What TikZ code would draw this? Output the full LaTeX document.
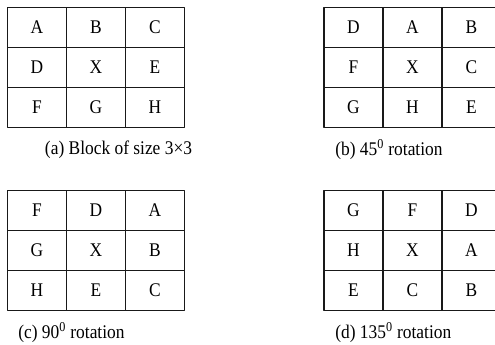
\documentclass[tikz,border=0pt]{standalone}
\usepackage{fontspec}
\setmainfont{Liberation Serif}
\newfontfamily\narrowserif[FakeStretch=0.9]{Liberation Serif}
\usetikzlibrary{positioning}

\begin{document}
\begin{tikzpicture}[x=0.75pt, y=-0.75pt, line join=round,
    cell/.style={draw=black!90, line width=1pt, minimum width=44.25pt, minimum height=30pt,
      inner sep=0pt, font=\narrowserif\fontsize{14.5}{16}\selectfont},
    captxt/.style={inner sep=0pt, font=\narrowserif\fontsize{14.5}{16}\selectfont}]
    \useasboundingbox (0,0) rectangle (495,345);
    \clip (0,0) rectangle (495,345);

    % (a) 原始块
    \foreach \r/\p/\q/\s in {0/A/B/C, 1/D/X/E, 2/F/G/H} {
        \node[cell] (a-\r-1) at (37,{27.5+40*\r}) {\p};
        \node[cell] (a-\r-2) at (96,{27.5+40*\r}) {\q};
        \node[cell] (a-\r-3) at (155,{27.5+40*\r}) {\s};
    }
    \node[captxt] (capa) at (118.5,150) {(a) Block of size 3×3};

    % (b) 旋转 45
    \foreach \r/\p/\q/\s in {0/D/A/B, 1/F/X/C, 2/G/H/E} {
        \node[cell] (b-\r-1) at (353.5,{27.5+40*\r}) {\p};
        \node[cell] (b-\r-2) at (412.5,{27.5+40*\r}) {\q};
        \node[cell] (b-\r-3) at (471.5,{27.5+40*\r}) {\s};
    }
    \node[captxt, anchor=west] (capb) at (335,150) {(b) 45\textsuperscript{0} rotation};

    % (c) 旋转 90
    \foreach \r/\p/\q/\s in {0/F/D/A, 1/G/X/B, 2/H/E/C} {
        \node[cell] (c-\r-1) at (37,{210.5+40*\r}) {\p};
        \node[cell] (c-\r-2) at (96,{210.5+40*\r}) {\q};
        \node[cell] (c-\r-3) at (155,{210.5+40*\r}) {\s};
    }
    \node[captxt, anchor=west] (capc) at (18,333) {(c) 90\textsuperscript{0} rotation};

    % (d) 旋转 135
    \foreach \r/\p/\q/\s in {0/G/F/D, 1/H/X/A, 2/E/C/B} {
        \node[cell] (d-\r-1) at (353.5,{210.5+40*\r}) {\p};
        \node[cell] (d-\r-2) at (412.5,{210.5+40*\r}) {\q};
        \node[cell] (d-\r-3) at (471.5,{210.5+40*\r}) {\s};
    }
    \node[captxt, anchor=west] (capd) at (335,333) {(d) 135\textsuperscript{0} rotation};
\end{tikzpicture}
\end{document}
